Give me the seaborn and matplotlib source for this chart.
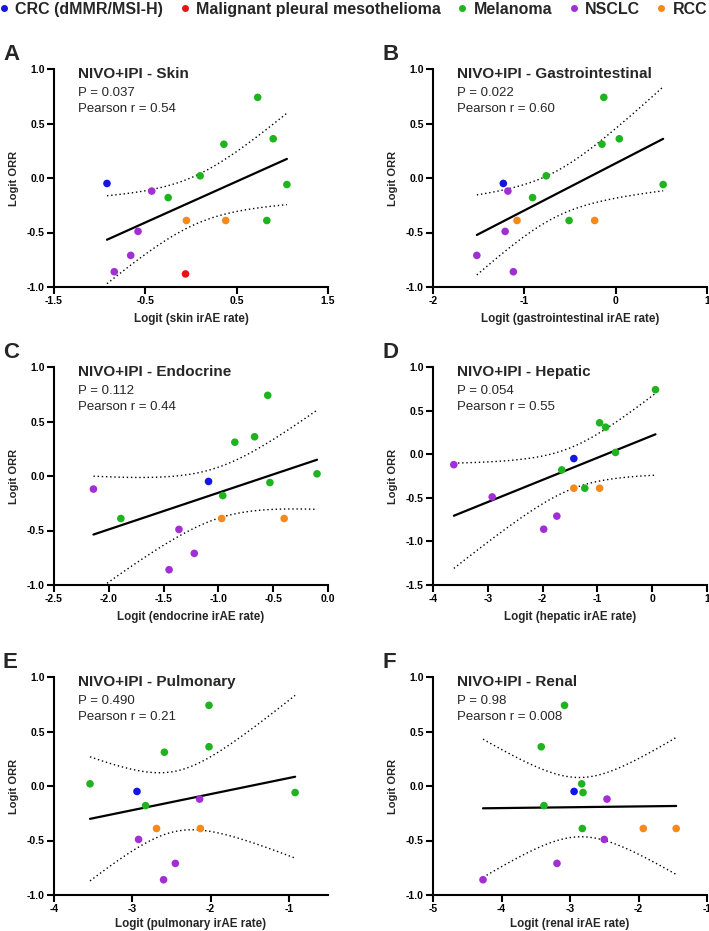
import matplotlib
matplotlib.use("Agg")
import matplotlib.pyplot as plt
from matplotlib.lines import Line2D
import numpy as np
import pandas as pd
import seaborn as sns

sns.set_style("ticks")
plt.rcParams["font.family"] = ["Liberation Sans", "DejaVu Sans"]
plt.rcParams["axes.unicode_minus"] = False

# cohorts and colours
cohorts = ["CRC (dMMR/MSI-H)", "Malignant pleural mesothelioma", "Melanoma", "NSCLC", "RCC"]
cohort_colors = ["#1414e6", "#e81414", "#1fb41f", "#a22fd6", "#f5891c"]

# panel A - skin
skin_cohort = ["CRC (dMMR/MSI-H)", "NSCLC", "Melanoma", "Melanoma", "Melanoma", "Melanoma", "Melanoma",
               "Melanoma", "Melanoma", "RCC", "RCC", "NSCLC", "NSCLC", "NSCLC", "Malignant pleural mesothelioma"]
skin_x = [-0.92, -0.43, -0.25, 0.10, 0.36, 0.73, 0.90, 1.05, 0.83, -0.05, 0.38, -0.58, -0.66, -0.84, -0.06]
skin_y = [-0.05, -0.12, -0.18, 0.02, 0.31, 0.74, 0.36, -0.06, -0.39, -0.39, -0.39, -0.49, -0.71, -0.86, -0.88]

# panel B - gastrointestinal
gi_cohort = ["CRC (dMMR/MSI-H)", "NSCLC", "Melanoma", "Melanoma", "Melanoma", "Melanoma", "Melanoma",
             "Melanoma", "Melanoma", "RCC", "RCC", "NSCLC", "NSCLC", "NSCLC"]
gi_x = [-1.23, -1.18, -0.91, -0.76, -0.15, -0.13, 0.04, 0.52, -0.51, -1.08, -0.23, -1.21, -1.52, -1.12]
gi_y = [-0.05, -0.12, -0.18, 0.02, 0.31, 0.74, 0.36, -0.06, -0.39, -0.39, -0.39, -0.49, -0.71, -0.86]

# panel C - endocrine
endo_cohort = ["NSCLC", "Melanoma", "NSCLC", "NSCLC", "NSCLC", "CRC (dMMR/MSI-H)", "Melanoma",
               "RCC", "Melanoma", "Melanoma", "Melanoma", "Melanoma", "RCC", "Melanoma"]
endo_x = [-2.14, -1.89, -1.36, -1.45, -1.22, -1.09, -0.96, -0.97, -0.85, -0.67, -0.55, -0.53, -0.40, -0.10]
endo_y = [-0.12, -0.39, -0.49, -0.86, -0.71, -0.05, -0.18, -0.39, 0.31, 0.36, 0.74, -0.06, -0.39, 0.02]

# panel D - hepatic
hep_cohort = ["NSCLC", "NSCLC", "NSCLC", "NSCLC", "Melanoma", "CRC (dMMR/MSI-H)", "RCC",
              "Melanoma", "RCC", "Melanoma", "Melanoma", "Melanoma", "Melanoma"]
hep_x = [-3.62, -2.92, -1.98, -1.74, -1.65, -1.43, -1.43, -1.23, -0.96, -0.96, -0.85, -0.67, 0.06]
hep_y = [-0.12, -0.49, -0.86, -0.71, -0.18, -0.05, -0.39, -0.39, -0.39, 0.36, 0.31, 0.02, 0.74]

# panel E - pulmonary
pul_cohort = ["Melanoma", "CRC (dMMR/MSI-H)", "Melanoma", "NSCLC", "RCC", "Melanoma", "NSCLC",
              "NSCLC", "NSCLC", "RCC", "Melanoma", "Melanoma", "Melanoma"]
pul_x = [-3.54, -2.94, -2.83, -2.92, -2.69, -2.59, -2.60, -2.45, -2.14, -2.13, -2.02, -2.02, -0.92]
pul_y = [0.02, -0.05, -0.18, -0.49, -0.39, 0.31, -0.86, -0.71, -0.12, -0.39, 0.74, 0.36, -0.06]

# panel F - renal
ren_cohort = ["NSCLC", "Melanoma", "Melanoma", "NSCLC", "Melanoma", "CRC (dMMR/MSI-H)", "Melanoma",
              "Melanoma", "Melanoma", "NSCLC", "NSCLC", "RCC", "RCC"]
ren_x = [-4.27, -3.42, -3.38, -3.19, -3.08, -2.94, -2.83, -2.81, -2.82, -2.50, -2.46, -1.93, -1.45]
ren_y = [-0.86, 0.36, -0.18, -0.71, 0.74, -0.05, 0.02, -0.06, -0.39, -0.49, -0.12, -0.39, -0.39]

panel_letters = ["A", "B", "C", "D", "E", "F"]
panel_titles = ["NIVO+IPI - Skin", "NIVO+IPI - Gastrointestinal", "NIVO+IPI - Endocrine",
                "NIVO+IPI - Hepatic", "NIVO+IPI - Pulmonary", "NIVO+IPI - Renal"]
panel_p = ["P = 0.037", "P = 0.022", "P = 0.112", "P = 0.054", "P = 0.490", "P = 0.98"]
panel_r = ["Pearson r = 0.54", "Pearson r = 0.60", "Pearson r = 0.44",
           "Pearson r = 0.55", "Pearson r = 0.21", "Pearson r = 0.008"]
panel_xlabels = ["Logit (skin irAE rate)", "Logit (gastrointestinal irAE rate)",
                 "Logit (endocrine irAE rate)", "Logit (hepatic irAE rate)",
                 "Logit (pulmonary irAE rate)", "Logit (renal irAE rate)"]
panel_data = [(skin_cohort, skin_x, skin_y), (gi_cohort, gi_x, gi_y), (endo_cohort, endo_x, endo_y),
              (hep_cohort, hep_x, hep_y), (pul_cohort, pul_x, pul_y), (ren_cohort, ren_x, ren_y)]
panel_xlim = [(-1.5, 1.5), (-2, 1), (-2.5, 0.0), (-4, 1), (-4, -0.5), (-5, -1)]
panel_xticks = [[-1.5, -0.5, 0.5, 1.5], [-2, -1, 0, 1], [-2.5, -2.0, -1.5, -1.0, -0.5, 0.0],
                [-4, -3, -2, -1, 0, 1], [-4, -3, -2, -1], [-5, -4, -3, -2, -1]]
panel_ylim = [(-1, 1), (-1, 1), (-1, 1), (-1.5, 1), (-1, 1), (-1, 1)]

# two-sided 95% t critical values by degrees of freedom
t_crit = {11: 2.2010, 12: 2.1788, 13: 2.1604}

palette = dict(zip(cohorts, cohort_colors))

W, H = 709, 931
fig = plt.figure(figsize=(W / 100, H / 100), dpi=100)

# axes boxes in pixels: left, right, top, bottom
boxes = [(54, 328, 69, 287), (433, 707, 69, 287),
         (54, 328, 367, 585), (433, 707, 367, 585),
         (54, 328, 677, 895), (433, 707, 677, 895)]

for i, (l, r, t, b) in enumerate(boxes):
    ax = fig.add_axes([l / W, 1 - b / H, (r - l) / W, (b - t) / H])
    coh, xs, ys = panel_data[i]
    df = pd.DataFrame({"x": xs, "y": ys, "cohort": coh})
    x = np.array(xs)
    y = np.array(ys)

    # regression and 95% confidence band
    slope, intercept = np.polyfit(x, y, 1)
    xx = np.linspace(x.min(), x.max(), 100)
    yy = intercept + slope * xx
    n = len(x)
    resid = y - (intercept + slope * x)
    s = np.sqrt(np.sum(resid ** 2) / (n - 2))
    sxx = np.sum((x - x.mean()) ** 2)
    se = s * np.sqrt(1 / n + (xx - x.mean()) ** 2 / sxx)
    tc = t_crit[n - 2]
    ax.plot(xx, yy + tc * se, color="black", lw=1.0, ls=(0, (1, 2)))
    ax.plot(xx, yy - tc * se, color="black", lw=1.0, ls=(0, (1, 2)))
    ax.plot(xx, yy, color="black", lw=1.6)

    sns.scatterplot(data=df, x="x", y="y", hue="cohort", palette=palette, s=30,
                    edgecolor="none", legend=False, ax=ax, zorder=3, clip_on=False)

    ax.set_xlim(*panel_xlim[i])
    ax.set_ylim(*panel_ylim[i])
    ax.set_xticks(panel_xticks[i])
    yt = np.arange(panel_ylim[i][0], panel_ylim[i][1] + 0.01, 0.5)
    ax.set_yticks(yt)
    ax.set_yticklabels([f"{v:.1f}" for v in yt])
    if i == 2:
        ax.set_xticklabels([f"{v:.1f}" for v in panel_xticks[i]])
    for sp in ["top", "right"]:
        ax.spines[sp].set_visible(False)
    for sp in ["left", "bottom"]:
        ax.spines[sp].set_linewidth(1.5)
        ax.spines[sp].set_color("black")
    ax.tick_params(direction="out", length=5, width=1.5, labelsize=7.5, pad=1.5, colors="black")
    for lab in ax.get_xticklabels() + ax.get_yticklabels():
        lab.set_fontweight("bold")

    ax.set_xlabel(panel_xlabels[i], fontsize=8.4, fontweight="bold", labelpad=2.5 if i >= 4 else 5)
    ax.set_ylabel("Logit ORR", fontsize=8.0, fontweight="bold", labelpad=6)

    ax.text(0.088, 0.958, panel_titles[i], transform=ax.transAxes, fontsize=11,
            fontweight="bold", va="baseline", ha="left")
    ax.text(0.088, 0.876, panel_p[i], transform=ax.transAxes, fontsize=9.5,
            va="baseline", ha="left")
    ax.text(0.088, 0.803, panel_r[i], transform=ax.transAxes, fontsize=9.5,
            va="baseline", ha="left")

    fig.text((l - 51) / W, 1 - (t - 9) / H, panel_letters[i], fontsize=16,
             fontweight="bold", va="baseline", ha="left")

handles = [Line2D([], [], marker="o", ls="none", color=c, markersize=4) for c in cohort_colors]
fig.legend(handles, cohorts, loc="upper left", bbox_to_anchor=(0.0, 1 - 2 / H), ncol=5,
           frameon=False, handletextpad=0.45, columnspacing=1.1, handlelength=0.5,
           borderpad=0, borderaxespad=0, prop={"weight": "bold", "size": 11.5})

fig.savefig("out.png", dpi=100)
